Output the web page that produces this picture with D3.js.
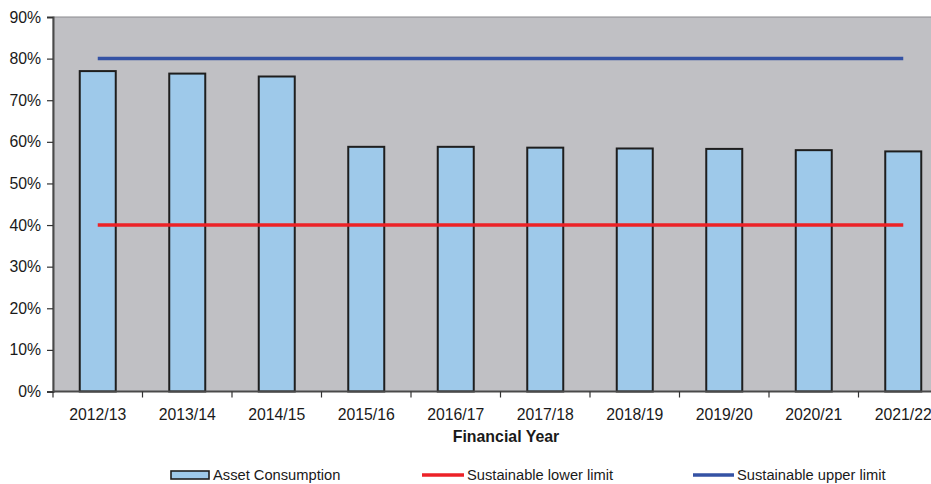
<!DOCTYPE html>
<html>
<head>
<meta charset="utf-8">
<script src="https://cdn.jsdelivr.net/npm/d3@7/dist/d3.min.js"></script>
<style>
    body { margin: 0; background: #fff; }
    svg { display: block; font-family: 'Liberation Sans', Arial, sans-serif; }
</style>
</head>
<body>
<svg id="chart"></svg>
<script>
const years = ['2012/13', '2013/14', '2014/15', '2015/16', '2016/17',
    '2017/18', '2018/19', '2019/20', '2020/21', '2021/22'];
const assetConsumption = [77.0, 76.4, 75.7, 58.8, 58.8, 58.6, 58.4, 58.3, 58.0, 57.7];
const lowerLimit = [40, 40, 40, 40, 40, 40, 40, 40, 40, 40];
const upperLimit = [80, 80, 80, 80, 80, 80, 80, 80, 80, 80];
const yTicks = [0, 10, 20, 30, 40, 50, 60, 70, 80, 90];

const width = 931;
const height = 484;
const plot = { left: 53, right: 948, top: 17, bottom: 391.5 };

const svg = d3.select('#chart')
    .attr('width', width)
    .attr('height', height);

const xScale = d3.scaleBand()
    .domain(years)
    .range([plot.left, plot.right]);

const yScale = d3.scaleLinear()
    .domain([0, 90])
    .range([plot.bottom, plot.top]);

// plot background
svg.append('rect')
    .attr('x', plot.left)
    .attr('y', plot.top)
    .attr('width', plot.right - plot.left)
    .attr('height', plot.bottom - plot.top)
    .attr('fill', '#c0c0c4')
    .attr('stroke', '#8a8a8e')
    .attr('stroke-width', 1);

// bars
const barWidth = 36;
svg.selectAll('rect.bar')
    .data(years)
    .enter()
    .append('rect')
    .attr('class', 'bar')
    .attr('x', d => xScale(d) + xScale.bandwidth() / 2 - barWidth / 2)
    .attr('y', (d, i) => yScale(assetConsumption[i]))
    .attr('width', barWidth)
    .attr('height', (d, i) => plot.bottom - yScale(assetConsumption[i]))
    .attr('fill', '#9ec9ea')
    .attr('stroke', '#1e1e1e')
    .attr('stroke-width', 2);

// limit lines
const line = d3.line()
    .x((d, i) => xScale(years[i]) + xScale.bandwidth() / 2)
    .y(d => yScale(d));

svg.append('path')
    .datum(lowerLimit)
    .attr('d', line)
    .attr('fill', 'none')
    .attr('stroke', '#ec2227')
    .attr('stroke-width', 3.5);

svg.append('path')
    .datum(upperLimit)
    .attr('d', line)
    .attr('fill', 'none')
    .attr('stroke', '#3452a4')
    .attr('stroke-width', 3.5);

// axes
const yAxis = d3.axisLeft(yScale)
    .tickValues(yTicks)
    .tickFormat(d => d + '%')
    .tickSize(6)
    .tickPadding(6);

const yAxisGroup = svg.append('g')
    .attr('transform', `translate(${plot.left}, 0)`)
    .call(yAxis);

const xAxis = d3.axisBottom(xScale)
    .tickSize(0)
    .tickPadding(17);

const xAxisGroup = svg.append('g')
    .attr('transform', `translate(0, ${plot.bottom})`)
    .call(xAxis);

// tick marks between categories
svg.selectAll('line.xtick')
    .data(years)
    .enter()
    .append('line')
    .attr('class', 'xtick')
    .attr('x1', d => xScale(d))
    .attr('x2', d => xScale(d))
    .attr('y1', plot.bottom)
    .attr('y2', plot.bottom + 6)
    .attr('stroke', '#333')
    .attr('stroke-width', 1.2);

[xAxisGroup, yAxisGroup].forEach(g => {
    g.select('.domain').attr('stroke', '#4a4a4a').attr('stroke-width', 2);
    g.selectAll('.tick line').attr('stroke', '#333').attr('stroke-width', 1.2);
    g.selectAll('text')
        .attr('fill', '#1a1a1a')
        .style('font-size', '15.8px')
        .style('font-family', "'Liberation Sans', Arial, sans-serif");
});
xAxisGroup.select('.domain').attr('d', `M${plot.left},0H${plot.right}`);

svg.append('text')
    .attr('x', 506)
    .attr('y', 441.5)
    .attr('text-anchor', 'middle')
    .style('font-size', '15.9px')
    .style('font-weight', 'bold')
    .attr('fill', '#1a1a1a')
    .text('Financial Year');

// legend
const legend = svg.append('g').style('font-size', '14.7px');
const legendY = 475;

legend.append('rect')
    .attr('x', 171)
    .attr('y', legendY - 4)
    .attr('width', 38)
    .attr('height', 8)
    .attr('fill', '#9ec9ea')
    .attr('stroke', '#1e1e1e')
    .attr('stroke-width', 1.6);
legend.append('text')
    .attr('x', 213)
    .attr('y', legendY + 5.3)
    .attr('fill', '#1a1a1a')
    .text('Asset Consumption');

legend.append('line')
    .attr('x1', 422).attr('x2', 464)
    .attr('y1', legendY).attr('y2', legendY)
    .attr('stroke', '#ec2227')
    .attr('stroke-width', 3.5);
legend.append('text')
    .attr('x', 467)
    .attr('y', legendY + 5.3)
    .attr('fill', '#1a1a1a')
    .text('Sustainable lower limit');

legend.append('line')
    .attr('x1', 693).attr('x2', 734)
    .attr('y1', legendY).attr('y2', legendY)
    .attr('stroke', '#3452a4')
    .attr('stroke-width', 3.5);
legend.append('text')
    .attr('x', 737)
    .attr('y', legendY + 5.3)
    .attr('fill', '#1a1a1a')
    .text('Sustainable upper limit');
</script>
</body>
</html>
